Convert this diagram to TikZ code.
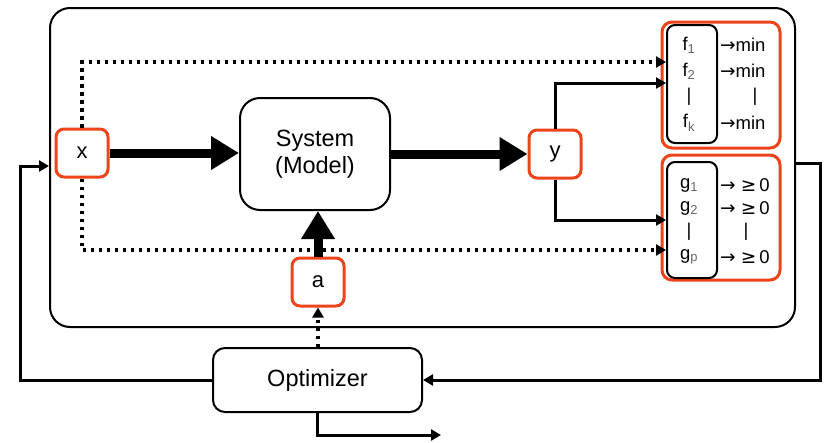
\documentclass[tikz,border=0pt]{standalone}
\usepackage{fontspec}
\setmainfont{Liberation Sans}
\newfontfamily\symfont{DejaVu Sans}
\usetikzlibrary{arrows.meta}
\definecolor{hl}{RGB}{238,68,28}
\newcommand\lowidx[1]{\textsubscript{\color{black!60}#1}}
\begin{document}
\begin{tikzpicture}[x=1pt,y=-1pt,
  frame/.style={draw, line width=2pt, rounded corners=20pt, minimum width=745pt, minimum height=319pt, inner sep=0pt},
  var/.style={draw=hl, line width=3pt, rounded corners=8pt, fill=white, minimum width=52pt, minimum height=48pt, inner sep=0pt, font=\fontsize{22}{24}\selectfont},
  block/.style={draw, line width=2pt, fill=white, inner sep=0pt, align=center, font=\fontsize{23.5}{27}\selectfont},
  group/.style={draw=hl, line width=3pt, rounded corners=10pt, minimum width=118pt, inner sep=0pt},
  inbox/.style={draw, line width=2pt, rounded corners=8pt, minimum width=50pt, inner sep=0pt},
  lbl/.style={inner sep=0pt, font=\fontsize{18.5}{20}\selectfont},
  big/.style={line width=9pt, -{Triangle[length=28pt,width=32pt]}},
  arr/.style={line width=3pt, -{Triangle[length=10pt,width=11pt]}},
  dots/.style={line width=3.5pt, dash pattern=on 3.5pt off 4.5pt, -{Triangle[length=10pt,width=11pt]}}]
\useasboundingbox (0,0) rectangle (834,442);

% enclosing model frame
\node[frame] (frame) at (422.5,167.5) {};

% variables and blocks
\node[var] (x) at (82,153) {x};
\node[block, rounded corners=20pt, minimum width=150pt, minimum height=112pt] (sys) at (315,154) {System\\(Model)};
\node[var] (y) at (555,154) {y};
\node[var] (a) at (318,282) {a};
\node[block, rounded corners=12pt, minimum width=209pt, minimum height=64pt] (opt) at (317.5,380) {Optimizer};

% objectives
\node[group, minimum height=126pt] (fgrp) at (721,85) {};
\node[inbox, minimum height=118pt] (fin) at (692,84) {};
\node[lbl] (f1) at (689,45) {f\lowidx{1}};
\node[lbl] (f2) at (689,71) {f\lowidx{2}};
\node[lbl] (fd) at (689,97) {|};
\node[lbl] (fk) at (689,123) {f\lowidx{k}};
\node[lbl, anchor=west] (m1) at (720,45) {{\symfont →}min};
\node[lbl, anchor=west] (m2) at (720,71) {{\symfont →}min};
\node[lbl] (md) at (755,97) {|};
\node[lbl, anchor=west] (mk) at (720,123) {{\symfont →}min};

% constraints
\node[group, minimum height=125pt] (ggrp) at (721,217.5) {};
\node[inbox, minimum height=116pt] (gin) at (692,220) {};
\node[lbl] (g1) at (689,185) {g\lowidx{1}};
\node[lbl] (g2) at (689,208) {g\lowidx{2}};
\node[lbl] (gd) at (689,232) {|};
\node[lbl] (gp) at (689,257) {g\lowidx{p}};
\node[lbl, anchor=west] (c1) at (720,185) {{\symfont →} {\symfont ≥}\,0};
\node[lbl, anchor=west] (c2) at (720,208) {{\symfont →} {\symfont ≥}\,0};
\node[lbl] (cd) at (746,232) {|};
\node[lbl, anchor=west] (cp) at (720,257) {{\symfont →} {\symfont ≥}\,0};

% main signal flow
\draw[big] (x.east) -- (sys.west |- x.east);
\draw[big] (sys.east |- y.west) -- (y.west);
\draw[big] (a.north) -- (a.north |- sys.south);

% outputs to objectives and constraints
\draw[arr] (y.north) |- (fin.west |- 0,83);
\draw[arr] (y.south) |- (gin.west |- 0,220);
\draw[dots] (x.north) |- (fin.west |- 0,62);
\draw[dots] (x.south) |- (gin.west |- 0,250);

% optimizer loop
\draw[dots] (a.south |- opt.north) -- (a.south);
\draw[arr] (opt.west) -| (20,166) -- (frame.west |- 0,166);
\draw[arr] (frame.east |- 0,163) -- (820,163) |- (opt.east);
\draw[arr] (opt.south) |- (441,435);
\end{tikzpicture}
\end{document}
